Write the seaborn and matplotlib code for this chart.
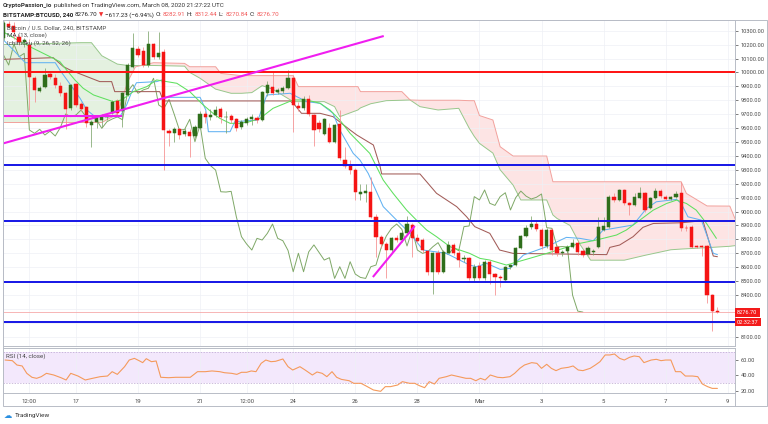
import numpy as np
import pandas as pd
import matplotlib
matplotlib.use("Agg")
import matplotlib.pyplot as plt
from matplotlib.patches import Rectangle
import seaborn as sns

sns.set_style("white")
plt.rcParams['font.family'] = ['Roboto', 'DejaVu Sans']

# ---------------- data ----------------
start = pd.Timestamp("2020-02-14 16:00")   # first 4h candle on screen

opens = [10245, 10350, 10335, 10257, 10221, 10197, 9958, 9870, 9898, 9988,
         9958, 9905, 9850, 9742, 9914, 9770, 9749, 9622, 9646, 9658,
         9683, 9711, 9795, 9725, 9838, 10041, 10170, 10157, 10053, 10205,
         10113, 10149, 9579, 9567, 9591, 9560, 9572, 9543, 9600, 9699,
         9677, 9694, 9735, 9680, 9685, 9662, 9608, 9640, 9662, 9670,
         9658, 9850, 9898, 9860, 9868, 9886, 9958, 9760, 9742, 9809,
         9694, 9640, 9560, 9600, 9502, 9627, 9372, 9330, 9298, 9128,
         9135, 9143, 8963, 8819, 8766, 8723, 8807, 8795, 8843, 8905,
         8807, 8795, 8715, 8567, 8700, 8567, 8705, 8760, 8705, 8660,
         8663, 8519, 8610, 8519, 8639, 8550, 8526, 8505, 8600, 8615,
         8740, 8824, 8886, 8910, 8867, 8752, 8867, 8747, 8699, 8716,
         8747, 8776, 8716, 8694, 8706, 8747, 8870, 8891, 9107, 9083,
         9155, 9059, 9047, 9099, 9131, 9023, 9099, 9147, 9107, 9090,
         9102, 9135, 8884, 8891, 8755, 8750, 8752, 8399, 8282.91]
highs = [10370, 10372, 10360, 10275, 10250, 10240, 9975, 9900, 10030, 10010,
         9990, 9930, 9860, 9920, 9925, 9790, 9760, 9660, 9690, 9700,
         9700, 9800, 9810, 9860, 10070, 10280, 10190, 10180, 10300, 10215,
         10290, 10170, 9590, 9610, 9600, 9600, 9590, 9620, 9720, 9720,
         9740, 9760, 9750, 9720, 9700, 9670, 9660, 9680, 9700, 9690,
         9870, 9935, 10005, 9890, 9900, 10017, 9980, 9790, 9830, 9840,
         9700, 9660, 9670, 9640, 9630, 9730, 9466, 9370, 9310, 9200,
         9200, 9250, 8980, 8830, 8780, 8820, 8830, 8860, 8967, 8920,
         8840, 8810, 8720, 8710, 8720, 8720, 8790, 8770, 8720, 8690,
         8670, 8620, 8640, 8650, 8650, 8560, 8540, 8610, 8625, 8745,
         8830, 8900, 8967, 8930, 8880, 8880, 8880, 8760, 8725, 8760,
         8800, 8790, 8730, 8750, 8730, 8960, 8960, 9120, 9130, 9165,
         9165, 9070, 9130, 9178, 9140, 9105, 9170, 9160, 9120, 9115,
         9150, 9215, 8905, 8900, 8760, 8760, 8760, 8410, 8312.44]
lows = [10230, 10320, 10240, 10200, 10180, 9730, 9790, 9860, 9890, 9950,
        9890, 9830, 9590, 9730, 9750, 9720, 9610, 9466, 9600, 9610,
        9660, 9700, 9690, 9610, 9830, 10030, 10110, 10040, 10040, 10100,
        10100, 9298, 9471, 9500, 9520, 9540, 9394, 9530, 9590, 9640,
        9660, 9680, 9640, 9562, 9640, 9580, 9590, 9620, 9620, 9640,
        9650, 9830, 9840, 9845, 9855, 9880, 9574, 9720, 9730, 9690,
        9471, 9570, 9550, 9490, 9490, 9370, 9315, 9270, 9083, 9080,
        9070, 8950, 8675, 8740, 8519, 8700, 8780, 8780, 8830, 8675,
        8770, 8700, 8540, 8410, 8550, 8555, 8700, 8690, 8600, 8640,
        8510, 8500, 8510, 8510, 8480, 8400, 8460, 8495, 8585, 8605,
        8730, 8815, 8875, 8860, 8730, 8740, 8690, 8680, 8680, 8705,
        8740, 8690, 8670, 8685, 8690, 8740, 8860, 8885, 9070, 9075,
        9050, 8975, 9040, 9090, 9000, 9015, 9090, 9100, 9080, 9080,
        9095, 8860, 8860, 8740, 8740, 8680, 8340, 8140, 8270.84]
closes = [10353, 10330, 10293, 10221, 10235, 9969, 9874, 9886, 9981, 9965,
          9910, 9850, 9740, 9910, 9766, 9735, 9634, 9641, 9675, 9689,
          9685, 9790, 9706, 9850, 10053, 10173, 10125, 10053, 10205, 10113,
          10137, 9586, 9562, 9591, 9550, 9578, 9543, 9605, 9701, 9682,
          9694, 9730, 9677, 9683, 9658, 9598, 9646, 9665, 9680, 9660,
          9862, 9912, 9850, 9874, 9886, 9958, 9766, 9742, 9806, 9699,
          9586, 9590, 9663, 9502, 9622, 9382, 9330, 9298, 9142, 9140,
          9145, 8963, 8819, 8766, 8723, 8807, 8795, 8843, 8910, 8807,
          8790, 8720, 8567, 8700, 8567, 8710, 8760, 8705, 8651, 8668,
          8519, 8603, 8519, 8639, 8550, 8526, 8519, 8603, 8615, 8740,
          8824, 8879, 8910, 8872, 8752, 8867, 8723, 8699, 8711, 8747,
          8776, 8710, 8690, 8740, 8718, 8891, 8896, 9107, 9083, 9155,
          9059, 9044, 9107, 9135, 9011, 9099, 9147, 9111, 9090, 9102,
          9126, 8884, 8879, 8745, 8748, 8745, 8399, 8284, 8276.70]

# indicator lines, x in candle numbers
tenkan_x = [0, 1.9, 4.2, 10, 10.9, 13.2, 14.8, 16.1, 17.7, 22.5,
            23.8, 24.8, 25.7, 29.6, 30.6, 31.2, 38, 39.1, 39.6, 43.8,
            44.7, 49.2, 50.9, 55.4, 58.6, 61.2, 63.7, 65, 67.6, 68.9,
            70.5, 73.4, 76.6, 78.6, 81.1, 85.6, 90.1, 91.4, 93.4, 96,
            97.9, 100.5, 105, 108.8, 111.4, 114, 115.9, 121.7, 124.3, 126.2,
            130.1, 131, 132.3, 134.9, 137.2, 138]
tenkan_y = [10233, 10161, 10070, 10070, 10017, 9898, 9814, 9730, 9682, 9682,
            9766, 9862, 9926, 9934, 9946, 9821, 9821, 9730, 9574, 9574,
            9646, 9658, 9838, 9850, 9790, 9778, 9706, 9586, 9418, 9370,
            9274, 9035, 8915, 8843, 8723, 8699, 8615, 8603, 8627, 8584,
            8591, 8687, 8747, 8814, 8807, 8790, 8866, 8903, 9022, 9070,
            9087, 9058, 8962, 8938, 8700, 8690]

kijun_x = [0, 9.6, 11.6, 12.9, 18.6, 20.9, 21.5, 30.2, 30.9, 55.4,
           56.3, 57.6, 61.2, 63.7, 67, 68.3, 71.5, 72.8, 73.1, 80.5,
           83.7, 87.6, 89.5, 91.1, 94, 95.9, 98.5, 116.6, 117.2, 119.1,
           121.7, 123.6, 125.6, 131, 135.2, 137.2, 138]
kijun_y = [10094, 10106, 10041, 10017, 9934, 9934, 9862, 9862, 9795, 9795,
           9766, 9706, 9706, 9682, 9586, 9550, 9478, 9322, 9270, 9270,
           9131, 9035, 8963, 8891, 8843, 8723, 8699, 8690, 8742, 8759,
           8819, 8886, 8914, 8919, 8934, 8680, 8675]

ma_x = [0, 5.1, 9, 10.9, 12.2, 13.8, 15.4, 17.4, 19.3, 21.2,
        22.8, 25.1, 27.7, 29.6, 33.5, 36, 38.6, 40.5, 41.8, 43.8,
        45.7, 47.6, 49.6, 52.1, 56, 58.6, 61.2, 63.1, 65, 67,
        68.9, 70.8, 73.4, 75.3, 77.9, 79.8, 81.8, 83.7, 86.3, 88.2,
        90.1, 92.1, 94, 97.2, 101.7, 105, 108.2, 111.4, 114.6, 117.2,
        118.5, 120.4, 123, 125.6, 128.2, 130.1, 132, 133.9, 135.9, 137.8]
ma_y = [10290, 10185, 10113, 10077, 10017, 9946, 9886, 9838, 9814, 9790,
        9802, 9862, 9898, 9946, 9922, 9862, 9766, 9706, 9670, 9634,
        9634, 9646, 9670, 9742, 9802, 9802, 9778, 9730, 9658, 9562,
        9490, 9418, 9226, 9131, 9011, 8939, 8867, 8819, 8747, 8723,
        8699, 8663, 8651, 8615, 8663, 8699, 8735, 8771, 8795, 8819,
        8831, 8867, 8938, 9010, 9058, 9082, 9058, 9010, 8914, 8807]

cloud_x = [0, 15, 17, 19, 22, 24, 25.5, 29, 35, 36,
           38, 41, 42, 44, 46, 48, 50, 52, 56, 57,
           62, 64, 65, 68.5, 69, 71, 74, 77, 78.6, 80.5,
           84, 88, 90, 91, 92, 94.6, 96, 98.5, 100, 105,
           106.2, 107, 109.5, 111.5, 113.5, 120, 124, 129, 131, 132,
           136, 140.4, 141.5]
span_a = [10200, 10214, 10214, 10120, 10060, 10050, 10050, 10050, 10045, 10000,
          9958, 9880, 9870, 9850, 9850, 9855, 9905, 9880, 9790, 9790,
          9790, 9754, 9682, 9730, 9745, 9775, 9797, 9800, 9802, 9754,
          9730, 9742, 9600, 9540, 9490, 9420, 9300, 9190, 9083, 9083,
          8975, 8950, 8900, 8760, 8650, 8650, 8685, 8725, 8730, 8732,
          8740, 8750, 8755]
span_b = [9640, 9640, 9640, 9640, 9700, 9934, 10040, 10070, 10065, 10041,
          10041, 10041, 9993, 9985, 9977, 9977, 9977, 9977, 9977, 9898,
          9898, 9898, 9898, 9898, 9862, 9862, 9862, 9862, 9802, 9800,
          9800, 9800, 9797, 9797, 9690, 9658, 9466, 9399, 9399, 9399,
          9214, 9214, 9214, 9214, 9214, 9214, 9214, 9214, 9214, 9130,
          9040, 9039, 8940]

rsi_x = [0.3, 1.7, 2.6, 3.6, 4.5, 5.5, 6.4, 7.3, 8.3, 9.7,
         11.1, 12.1, 13, 14.4, 15.8, 17.2, 18.7, 20.1, 21, 22,
         23.4, 24.3, 25.3, 26.2, 26.9, 27.6, 28.6, 29.5, 30.4, 31.9,
         33.3, 34.7, 36.1, 37.5, 39, 40.3, 41.8, 42.7, 44.1, 45.1,
         46, 47, 47.9, 48.8, 49.8, 50.7, 51.7, 52.6, 54, 55,
         55.9, 57.3, 58.3, 59.7, 60.6, 61.6, 62.5, 63.5, 64.4, 65.3,
         66.8, 67.7, 69.1, 70.1, 71.5, 72.9, 73.8, 74.8, 76.2, 77.1,
         78.5, 79.5, 80.4, 81.4, 82.3, 83.3, 84.2, 85.6, 86.6, 88,
         89.4, 90.3, 91.3, 92.2, 93.1, 94.1, 95.5, 96.5, 97.9, 98.8,
         99.8, 100.7, 102.1, 103.1, 104, 105, 105.9, 106.8, 107.8, 109.2,
         110.1, 111.1, 112, 113.4, 114.4, 115.3, 116.3, 117.2, 118.1, 119.1,
         120, 121, 121.9, 122.9, 123.8, 125.2, 126.2, 127.1, 128, 129,
         129.9, 130.9, 131.8, 133.2, 134.2, 135.1, 136.1, 137, 138]
rsi_y = [59.4, 58.6, 53.1, 51.9, 42.6, 37.6, 36.3, 38.4, 42.6, 40.5,
         37.1, 34.2, 42.6, 39.2, 34.2, 36.3, 38.4, 39.2, 44.7, 41.3,
         51, 59.4, 61.5, 58.6, 56.1, 61.1, 57.3, 58.2, 37.6, 37.1,
         37.6, 37.6, 37.6, 44.7, 44.7, 45.6, 44.7, 43.4, 42.6, 41.3,
         43.9, 43.9, 45.6, 44.7, 55.2, 59.4, 57.3, 57.8, 60.7, 51,
         46.8, 51, 46.8, 40.5, 44.3, 42.6, 38.4, 44.7, 37.6, 35,
         33.3, 30, 30, 26.6, 21.6, 19.9, 25.8, 25.8, 27.9, 32.1,
         30, 30, 27, 24.5, 32.1, 29.1, 36.3, 38.4, 40.5, 38.4,
         36.3, 36.3, 33.3, 36.3, 34.2, 40.5, 37.6, 37.1, 38.4, 42.6,
         48.9, 53.1, 56.1, 55.2, 48.9, 54, 48.9, 46, 48.9, 50.2,
         51.9, 46.8, 46, 48.9, 53.1, 57.3, 65.8, 65.8, 67, 61.5,
         59.4, 62.8, 64.5, 63.6, 56.1, 59.4, 60.3, 58.6, 59.4, 59.4,
         44.7, 44.7, 39.2, 39.2, 38.4, 29.1, 25.8, 23.6, 23.6]

# drawn levels / trendlines
red_levels = [10000]
blue_levels = [9335, 8935, 8495, 8205]
trend1_x, trend1_y = [-0.7, 73.5], [9483, 10262]
trend2_x, trend2_y = [-0.7, 22.9], [9690, 9690]
trend3_x, trend3_y = [71.4, 79.5], [8529, 8896]

tick_times = ["2020-02-15 12:00", "2020-02-17 00:00", "2020-02-19 00:00", "2020-02-21 00:00",
              "2020-02-22 12:00", "2020-02-24 00:00", "2020-02-26 00:00", "2020-02-28 00:00",
              "2020-03-01 00:00", "2020-03-03 00:00", "2020-03-05 00:00", "2020-03-07 00:00",
              "2020-03-09 00:00"]
tick_labels = ["12:00", "17", "19", "21", "12:00", "24", "26", "28",
               "Mar", "3", "5", "7", "9"]
price_ticks = list(range(8100, 10400, 100))
last_price = 8276.70

# ---------------- figure ----------------
df = pd.DataFrame({"open": opens, "high": highs, "low": lows, "close": closes})
df["i"] = np.arange(len(df))
tick_pos = (pd.to_datetime(tick_times, format="ISO8601") - start) / pd.Timedelta(hours=4)

W, H = 768, 424
fig = plt.figure(figsize=(W / 100, H / 100), dpi=100)
ax = fig.add_axes([3 / W, 1 - 346 / H, 732 / W, 326 / H])
axr = fig.add_axes([3 / W, 1 - 393.3 / H, 732 / W, 45 / H], sharex=ax)

GRID = "#eef0f5"
TXT = "#4a4a4a"

# cloud
a, b = np.array(span_a), np.array(span_b)
ax.fill_between(cloud_x, a, b, where=a >= b, interpolate=True, color="#e4f1e0", lw=0, zorder=0.5)
ax.fill_between(cloud_x, a, b, where=a < b, interpolate=True, color="#fde4e4", lw=0, zorder=0.5)
sns.lineplot(x=cloud_x, y=span_a, ax=ax, color="#98c78c", lw=0.7, zorder=1)
sns.lineplot(x=cloud_x, y=span_b, ax=ax, color="#f2a19c", lw=0.7, zorder=1)

# lagging span = closes shifted back 26 bars
sns.lineplot(x=df["i"] - 26, y=df["close"], ax=ax, color="#7fa867", lw=0.7, zorder=1.2)
sns.lineplot(x=kijun_x, y=kijun_y, ax=ax, color="#a25c58", lw=0.75, zorder=1.4)
sns.lineplot(x=tenkan_x, y=tenkan_y, ax=ax, color="#62b2f2", lw=0.75, zorder=1.5)
sns.lineplot(x=ma_x, y=ma_y, ax=ax, color="#5fe05f", lw=0.75, zorder=1.6)

# candles
up = df["close"] >= df["open"]
for mask, body_c, wick_c in [(up, "#2f6e1b", "#7ea56d"), (~up, "#f51414", "#f58c8c")]:
    d = df[mask]
    ax.vlines(d["i"], d["low"], d["high"], color=wick_c, lw=0.55, zorder=3)
    ax.bar(d["i"], d["close"] - d["open"], bottom=d["open"], width=0.62,
           color=body_c, edgecolor=body_c, lw=0.35, zorder=3.5)

# user lines
ax.axhline(last_price, color="#f6a9a9", lw=0.6, zorder=2)
for lv in red_levels:
    ax.axhline(lv, color="#ff1010", lw=1.4, zorder=4)
for lv in blue_levels:
    ax.axhline(lv, color="#1515e6", lw=1.4, zorder=4)
for tx, ty in [(trend1_x, trend1_y), (trend2_x, trend2_y), (trend3_x, trend3_y)]:
    ax.plot(tx, ty, color="#f01ef0", lw=1.5, zorder=5, solid_capstyle="butt")

ax.set_xlim(-0.1, 141.4)
ax.set_ylim(8033, 10377)
ax.set_xlabel("")
ax.set_ylabel("")
ax.set_xticks(tick_pos)
ax.tick_params(axis="x", labelbottom=False, length=0)
ax.yaxis.tick_right()
ax.set_yticks(price_ticks)
ax.set_yticklabels(["" if p in (8200, 8300) else f"{p:.2f}" for p in price_ticks])
ax.tick_params(axis="y", labelsize=4.1, colors=TXT, length=2, width=0.5, pad=2)
ax.grid(True, color=GRID, lw=0.5)

# price / countdown tags on the axis
ax.text(1.003, last_price, "8276.70", transform=ax.get_yaxis_transform(),
        ha="left", va="center", fontsize=4.1, color="white", zorder=10,
        bbox=dict(boxstyle="square,pad=0.35", fc="#f31a1a", ec="none"))
fig.text(737 / W, 1 - 322 / H, "02:32:37", ha="left", va="center", fontsize=4.1,
         color="white", bbox=dict(boxstyle="square,pad=0.35", fc="#f31a1a", ec="none"))


def ftext(x, y, s, **kw):
    return fig.text(x / W, 1 - y / H, s, va="center", ha="left", **kw)


# legend text in the pane (pixel positions)
for y_px, s in [(28, "Bitcoin / U.S. Dollar, 240, BITSTAMP"), (35.5, "MA (13, close)"),
                (43, "Ichimoku (9, 26, 52, 26)")]:
    t = ftext(7, y_px, s, fontsize=4.5, color=TXT)
    t.set_zorder(6)

# RSI pane
axr.axhspan(30, 70, color="#f3e8fc", lw=0, zorder=0)
for lv in (30, 70):
    axr.axhline(lv, color="#b9a3cf", lw=0.5, ls=(0, (2, 2)), zorder=0.8)
sns.lineplot(x=rsi_x, y=rsi_y, ax=axr, color="#f59a5c", lw=0.8, zorder=2)
axr.set_ylim(17.4, 74.2)
axr.set_xlim(-0.1, 141.4)
axr.set_xlabel("")
axr.set_ylabel("")
axr.yaxis.tick_right()
axr.set_yticks([20, 40, 60])
axr.set_yticklabels(["20.00", "40.00", "60.00"])
axr.tick_params(axis="y", labelsize=4.1, colors=TXT, length=2, width=0.5, pad=2)
axr.set_xticks(tick_pos)
axr.set_xticklabels(tick_labels)
axr.tick_params(axis="x", labelsize=4.3, colors=TXT, length=0, pad=4)
axr.grid(True, axis="x", color=GRID, lw=0.5)
ftext(6, 356, "RSI (14, close)", fontsize=4.5, color=TXT)

for a_ in (ax, axr):
    for sp in a_.spines.values():
        sp.set_color("#b8bcc6")
        sp.set_linewidth(0.7)

# outer frame
fig.add_artist(Rectangle((3 / W, 1 - 406 / H), 764 / W, 386 / H, transform=fig.transFigure,
                         fill=False, ec="#b8bcc6", lw=0.7))
fig.add_artist(plt.Line2D([735 / W, 735 / W], [1 - 406 / H, 1 - 393 / H],
                          transform=fig.transFigure, color="#b8bcc6", lw=0.7))

# header, pieces laid out one after another
renderer = fig.canvas.get_renderer()


def chain(x, y, parts, gap=1.6):
    for s, kw in parts:
        t = ftext(x, y, s, **kw)
        x += t.get_window_extent(renderer=renderer).width + gap


HF = 4.5
DARK = "#222222"
RED = "#f25a5a"
chain(3, 6, [("CryptoPassion_io", dict(fontsize=HF, weight="bold", color="#333333")),
             ("published on TradingView.com, March 08, 2020 21:27:22 UTC",
              dict(fontsize=HF, color="#333333"))])
chain(3, 15, [("BITSTAMP:BTCUSD, 240", dict(fontsize=HF, weight="bold", color=DARK)),
              ("8276.70", dict(fontsize=HF, color=DARK)),
              ("\u25BC", dict(fontsize=HF - 0.5, color="#f23030", family="DejaVu Sans")),
              ("\u2212617.23 (\u22126.94%)", dict(fontsize=HF, color=DARK)),
              ("O:", dict(fontsize=HF, color=DARK)), ("8282.91", dict(fontsize=HF, color=RED)),
              ("H:", dict(fontsize=HF, color=DARK)), ("8312.44", dict(fontsize=HF, color=RED)),
              ("L:", dict(fontsize=HF, color=DARK)), ("8270.84", dict(fontsize=HF, color=RED)),
              ("C:", dict(fontsize=HF, color=DARK)), ("8276.70", dict(fontsize=HF, color=RED))])

# footer logo
ftext(4, 415, "\u2601", fontsize=6, color="#2a8fe0", family="DejaVu Sans")
ftext(15, 415, "TradingView", fontsize=4.6, color="#333333")

fig.savefig("out.png", dpi=100)
